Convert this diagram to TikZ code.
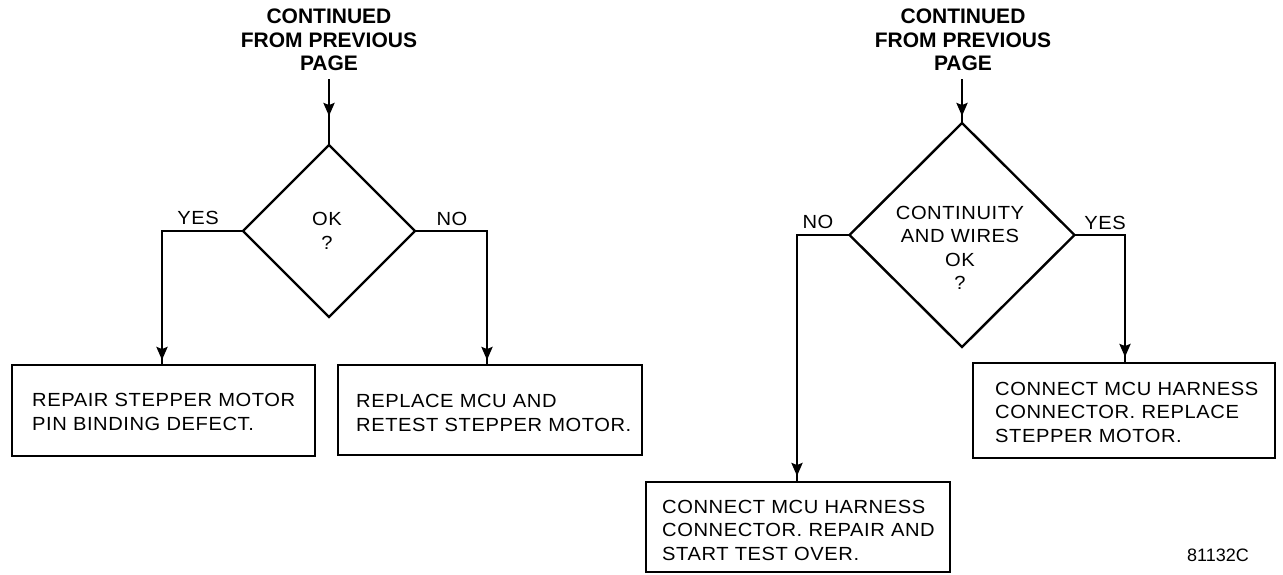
\documentclass[tikz,border=0pt]{standalone}
\usepackage{fontspec}
\setmainfont{Liberation Sans}
\newfontfamily\bodyfont{Liberation Sans}[FakeStretch=1.06,LetterSpace=3]
\usetikzlibrary{shapes.geometric,arrows.meta,decorations.markings,calc}

\tikzset{
  flow/.style={line width=2.4pt, line join=miter},
  decision/.style={draw, flow, diamond, inner sep=0pt, outer sep=0pt},
  stepbox/.style={draw, flow, rectangle, inner sep=0pt, outer sep=0pt, anchor=north west},
  boxtext/.style={anchor=west, align=left, inner sep=0pt,
    font=\bodyfont\fontsize{19}{23.5}\selectfont},
  lbl/.style={inner sep=0pt, align=center,
    font=\bodyfont\fontsize{19}{23.5}\selectfont},
  heading/.style={inner sep=0pt, align=center,
    font=\bfseries\fontsize{21}{23.5}\selectfont},
  tipat/.style={postaction={decorate},
    decoration={markings, mark=at position #1 with
      {\arrow{Stealth[length=13pt,width=11pt,inset=2pt]}}}},
}

\begin{document}
\begin{tikzpicture}[x=1pt, y=-1pt]
  \useasboundingbox (0,0) rectangle (1283,574);

  % ---------- left chart ----------
  \node[heading] (t1) at (329,40) {CONTINUED\\FROM PREVIOUS\\PAGE};
  \node[decision, minimum width=172pt, minimum height=172pt] (d1) at (329,231) {};
  \node[lbl] (d1t) at (327,231) {OK\\?};

  \node[stepbox, minimum width=303pt, minimum height=91pt] (b1) at (12,365) {};
  \node[boxtext] (b1t) at (32,412) {REPAIR STEPPER MOTOR\\PIN BINDING DEFECT.};
  \node[stepbox, minimum width=304pt, minimum height=90pt] (b2) at (338,365) {};
  \node[boxtext] (b2t) at (356,413) {REPLACE MCU AND\\RETEST STEPPER MOTOR.};

  \node[lbl] (y1) at (198,218) {YES};
  \node[lbl] (n1) at (452,219) {NO};

  \coordinate (l-yes) at (162,231);
  \coordinate (l-no)  at (487,231);

  \draw[flow, tipat=-29pt] ([yshift=-8pt]t1.south -| d1.north) -- (d1.north);
  \draw[flow, tipat=-5pt] (d1.west) -- (l-yes) -- (l-yes |- b1.north);
  \draw[flow, tipat=-5pt] (d1.east) -- (l-no) -- (l-no |- b2.north);

  % ---------- right chart ----------
  \node[heading] (t2) at (963,40) {CONTINUED\\FROM PREVIOUS\\PAGE};
  \node[decision, minimum width=225pt, minimum height=224pt] (d2) at (962,235) {};
  \node[lbl] (d2t) at (960,248) {CONTINUITY\\AND WIRES\\OK\\?};

  \node[stepbox, minimum width=302pt, minimum height=95pt] (b3) at (973,363) {};
  \node[boxtext] (b3t) at (995,412) {CONNECT MCU HARNESS\\CONNECTOR. REPLACE\\STEPPER MOTOR.};
  \node[stepbox, minimum width=304pt, minimum height=90pt] (b4) at (646,482) {};
  \node[boxtext] (b4t) at (662,530) {CONNECT MCU HARNESS\\CONNECTOR. REPAIR AND\\START TEST OVER.};

  \node[lbl] (n2) at (818,222) {NO};
  \node[lbl] (y2) at (1105,223) {YES};

  \coordinate (r-no)  at (797,235);
  \coordinate (r-yes) at (1125,235);

  \draw[flow, tipat=-7pt] ([yshift=-8pt]t2.south -| d2.north) -- (d2.north);
  \draw[flow, tipat=-6pt] (d2.west) -- (r-no) -- (r-no |- b4.north);
  \draw[flow, tipat=-6pt] (d2.east) -- (r-yes) -- (r-yes |- b3.north);

  % figure number
  \node[inner sep=0pt, font=\fontsize{18}{20}\selectfont] (fig) at (1218,555) {81132C};
\end{tikzpicture}
\end{document}
